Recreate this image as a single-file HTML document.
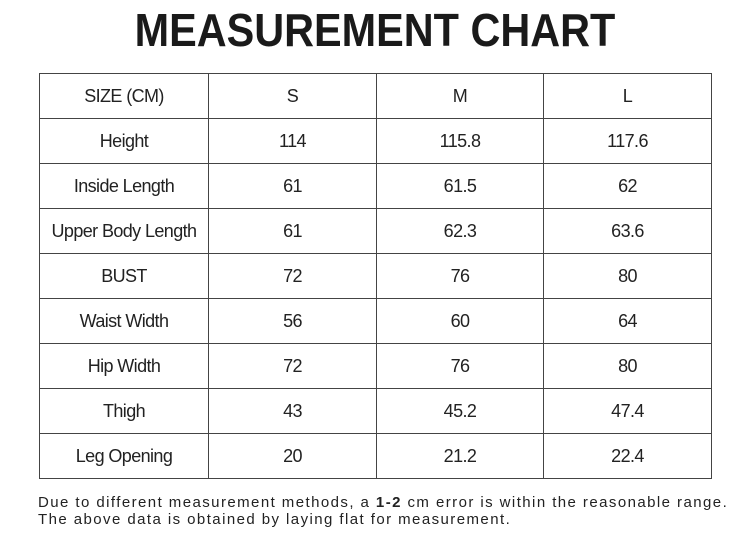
<!DOCTYPE html>
<html><head><meta charset="utf-8"><style>
html,body{margin:0;padding:0;background:#fff;width:750px;height:555px;overflow:hidden;font-family:"Liberation Sans","Noto Sans CJK SC",sans-serif;color:#222}
.t{position:absolute;left:0;width:750px;top:2px;text-align:center;font-size:46px;font-weight:bold;line-height:56px;color:#1a1a1a;transform:scaleX(0.9);transform-origin:375px 0}
table{position:absolute;left:39px;top:73px;border-collapse:collapse;table-layout:fixed;width:672px}
tr{height:45px}
td{border:1.5px solid #444;padding:0;text-align:center;font-size:18px;letter-spacing:-0.6px;color:#222}
.f{position:absolute;left:38px;font-size:15px;letter-spacing:1.43px;color:#222;white-space:nowrap;line-height:17px}
</style></head><body>
<div class="t">MEASUREMENT CHART</div>
<table>
<colgroup><col style="width:169px"><col style="width:168px"><col style="width:167px"><col style="width:168px"></colgroup>
<tr><td>SIZE (CM)</td><td>S</td><td>M</td><td>L</td></tr>
<tr><td>Height</td><td>114</td><td>115.8</td><td>117.6</td></tr>
<tr><td>Inside Length</td><td>61</td><td>61.5</td><td>62</td></tr>
<tr><td>Upper Body Length</td><td>61</td><td>62.3</td><td>63.6</td></tr>
<tr><td>BUST</td><td>72</td><td>76</td><td>80</td></tr>
<tr><td>Waist Width</td><td>56</td><td>60</td><td>64</td></tr>
<tr><td>Hip Width</td><td>72</td><td>76</td><td>80</td></tr>
<tr><td>Thigh</td><td>43</td><td>45.2</td><td>47.4</td></tr>
<tr><td>Leg Opening</td><td>20</td><td>21.2</td><td>22.4</td></tr>
</table>
<div class="f" style="top:494px">Due to different measurement methods, a <b>1-2</b> cm error is within the reasonable range.</div>
<div class="f" style="top:511px">The above data is obtained by laying flat for measurement.</div>
</body></html>
